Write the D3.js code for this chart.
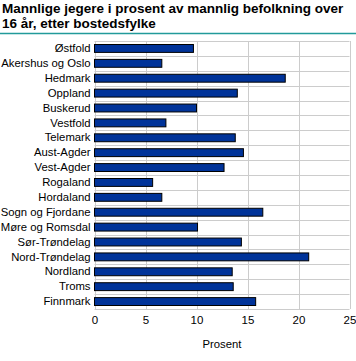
<!DOCTYPE html>
<html><head><meta charset="utf-8">
<script src="https://cdn.jsdelivr.net/npm/d3@7"></script>
<style>body{margin:0;background:#fff}svg{display:block}text{font-family:"Liberation Sans",Arial,sans-serif}</style>
</head><body>
<svg id="c" width="356" height="361"></svg>
<script>
const categories = ["Østfold","Akershus og Oslo","Hedmark","Oppland","Buskerud","Vestfold","Telemark","Aust-Agder","Vest-Agder","Rogaland","Hordaland","Sogn og Fjordane","Møre og Romsdal","Sør-Trøndelag","Nord-Trøndelag","Nordland","Troms","Finnmark"];
const values = [9.7,6.6,18.7,14.0,10.0,7.0,13.8,14.6,12.7,5.7,6.6,16.5,10.1,14.4,21.0,13.5,13.6,15.8];
const xTicks = [0,5,10,15,20,25];
const titleLines = ["Mannlige jegere i prosent av mannlig befolkning over","16 år, etter bostedsfylke"];
const xLabel = "Prosent";

const svg = d3.select("#c");
const m = {l:94.5, r:349.5, t:41, b:309};
const x = d3.scaleLinear().domain([0,25]).range([m.l,m.r]);
const y = d3.scaleBand().domain(categories).range([m.t,m.b]).paddingInner(0.47).paddingOuter(0.235);

svg.append("g").selectAll("text").data(titleLines).join("text")
  .attr("x",2).attr("y",(d,i)=>13+i*15).attr("font-size",13.5).attr("font-weight","bold").attr("fill","#000").text(d=>d);
svg.append("line").attr("x1",0).attr("x2",356).attr("y1",33.5).attr("y2",33.5).attr("stroke","#229a9a").attr("stroke-width",1.5);

// grid
const bandStep = (m.b-m.t)/categories.length;
const gridY = d3.range(categories.length+1).map(i=>m.t+i*bandStep);
svg.append("g").selectAll("line").data(gridY).join("line")
  .attr("x1",m.l).attr("x2",m.r).attr("y1",d=>Math.round(d)+0.5).attr("y2",d=>Math.round(d)+0.5).attr("stroke","#cccccc");
svg.append("g").selectAll("line").data(xTicks).join("line")
  .attr("x1",d=>Math.round(x(d))+0.5).attr("x2",d=>Math.round(x(d))+0.5).attr("y1",m.t).attr("y2",m.b).attr("stroke","#cccccc");

svg.append("g").selectAll("rect").data(values).join("rect")
  .attr("x",x(0)).attr("y",(d,i)=>y(categories[i]))
  .attr("width",d=>x(d)-x(0)).attr("height",y.bandwidth())
  .attr("fill","#003399").attr("stroke","#000").attr("stroke-width",1);

const xa = svg.append("g").attr("transform",`translate(0,${m.b})`).call(d3.axisBottom(x).tickValues(xTicks).tickSize(0).tickPadding(7));
xa.select(".domain").remove();
xa.selectAll("text").attr("font-size",11.5).attr("fill","#000").attr("font-family","Liberation Sans, Arial, sans-serif");

const ya = svg.append("g").attr("transform",`translate(${m.l},0)`).call(d3.axisLeft(y).tickSize(0).tickPadding(4));
ya.select(".domain").remove();
ya.selectAll("text").attr("font-size",11.3).attr("fill","#000").attr("font-family","Liberation Sans, Arial, sans-serif");

svg.append("text").attr("x",(m.l+m.r)/2).attr("y",348).attr("text-anchor","middle").attr("font-size",11.3).text(xLabel);
</script>
</body></html>
